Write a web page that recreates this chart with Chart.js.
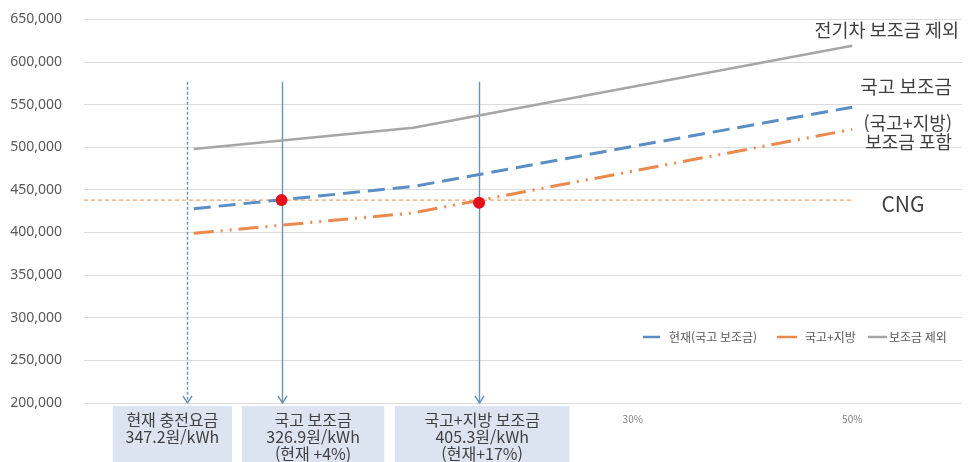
<!DOCTYPE html>
<html lang="ko">
<head>
<meta charset="utf-8">
<title>충전요금 인상률별 비용 비교</title>
<script src="https://cdn.jsdelivr.net/npm/chart.js@4.4.1/dist/chart.umd.min.js"></script>
<style>
  html, body { margin: 0; padding: 0; background: #fff; }
  #wrap { position: relative; width: 968px; height: 462px; overflow: hidden; }
  #costChart { position: absolute; left: 0; top: -11px; }
</style>
</head>
<body>
<div id="wrap"><canvas id="costChart" width="968" height="473"></canvas></div>
<script>
// 충전요금 인상률 구간
var categories = ["0%", "10%", "30%", "50%"];
// 시리즈별 비용
var currentSubsidy = [428000, 454000, 501000, 547000]; // 현재(국고 보조금)
var localSubsidy = [399000, 423000, 472000, 521000];   // 국고+지방
var noSubsidy = [498000, 523000, 571000, 619000];      // 보조금 제외
// CNG 기준선
var cngCost = 438000;
// 손익분기점 (구간 위치, 비용)
var breakEvenX = [0.40, 1.30];
var breakEvenY = [438000, 435000];
// 세로축 눈금
var yTicks = [200000, 250000, 300000, 350000, 400000, 450000, 500000, 550000, 600000, 650000];

var KR = "'Noto Sans CJK KR', 'Noto Sans', sans-serif";
var SHIFT = 11; // 캔버스 위쪽 잘림 보정

function toPoints(values) {
  return values.map(function (v, i) { return { x: i, y: v }; });
}

var annotations = {
  id: 'annotations',
  beforeDatasetsDraw: function (chart) {
    var ctx = chart.ctx, x = chart.scales.x, y = chart.scales.y, area = chart.chartArea;
    ctx.save();
    // CNG 기준선
    var cy = y.getPixelForValue(cngCost);
    ctx.strokeStyle = '#f2a366';
    ctx.lineWidth = 1.3;
    ctx.setLineDash([4, 3]);
    ctx.beginPath();
    ctx.moveTo(area.left, cy);
    ctx.lineTo(x.getPixelForValue(categories.length - 1), cy);
    ctx.stroke();

    // 세로 화살표 (현재, 국고, 국고+지방)
    var arrows = [{ v: -0.03, dash: [3, 2] }, { v: breakEvenX[0], dash: [] }, { v: breakEvenX[1], dash: [] }];
    var top = y.getPixelForValue(577000), bottom = y.getPixelForValue(200000);
    ctx.strokeStyle = '#6a93b8';
    ctx.lineWidth = 1.4;
    arrows.forEach(function (a) {
      var ax = Math.round(x.getPixelForValue(a.v)) + 0.5;
      ctx.setLineDash(a.dash);
      ctx.beginPath();
      ctx.moveTo(ax, top);
      ctx.lineTo(ax, bottom);
      ctx.stroke();
      ctx.setLineDash([]);
      ctx.beginPath();
      ctx.moveTo(ax - 4.5, bottom - 7);
      ctx.lineTo(ax, bottom);
      ctx.lineTo(ax + 4.5, bottom - 7);
      ctx.stroke();
    });
    ctx.restore();
  },
  afterDraw: function (chart) {
    var ctx = chart.ctx, x = chart.scales.x;
    ctx.save();
    ctx.translate(0, SHIFT);

    // 하단 설명 상자
    var boxes = [
      { from: -0.369, to: 0.174, lines: ['현재 충전요금', '347.2원/kWh'] },
      { from: 0.219, to: 0.868, lines: ['국고 보조금', '326.9원/kWh', '(현재 +4%)'] },
      { from: 0.916, to: 1.712, lines: ['국고+지방 보조금', '405.3원/kWh', '(현재+17%)'] }
    ];
    boxes.forEach(function (b) {
      var l = x.getPixelForValue(b.from), r = x.getPixelForValue(b.to);
      ctx.fillStyle = '#dce3f1';
      ctx.fillRect(l, 406, r - l, 60);
      ctx.fillStyle = '#404040';
      ctx.font = '16px ' + KR;
      ctx.textAlign = 'center';
      ctx.textBaseline = 'middle';
      b.lines.forEach(function (t, i) {
        ctx.fillText(t, (l + r) / 2, 420 + i * 17);
      });
    });

    // 오른쪽 시리즈 설명
    ctx.fillStyle = '#3f3f3f';
    ctx.font = '18.5px ' + KR;
    ctx.textBaseline = 'middle';
    ctx.textAlign = 'right';
    ctx.fillText('전기차 보조금 제외', 959, 30);
    ctx.font = '19px ' + KR;
    ctx.fillText('국고 보조금', 952, 87);
    ctx.font = '18px ' + KR;
    ctx.fillText('(국고+지방)', 952, 123);
    ctx.fillText('보조금 포함', 952, 142);
    ctx.textAlign = 'center';
    ctx.font = '21px ' + KR;
    ctx.fillText('CNG', 903, 204);

    // 범례
    var legend = [
      { color: '#5b8ec4', x0: 643, x1: 660, tx: 669, label: '현재(국고 보조금)' },
      { color: '#eb8a4c', x0: 777, x1: 797, tx: 805, label: '국고+지방' },
      { color: '#a6a6a6', x0: 868, x1: 887, tx: 889, label: '보조금 제외' }
    ];
    ctx.font = '12px ' + KR;
    ctx.textAlign = 'left';
    legend.forEach(function (it) {
      ctx.strokeStyle = it.color;
      ctx.lineWidth = 2.5;
      ctx.beginPath();
      ctx.moveTo(it.x0, 337);
      ctx.lineTo(it.x1, 337);
      ctx.stroke();
      ctx.fillStyle = '#595959';
      ctx.fillText(it.label, it.tx, 337);
    });
    ctx.restore();
  }
};

var ctx = document.getElementById('costChart');
var costChart = new Chart(ctx, {
  type: 'line',
  data: {
    datasets: [{
      label: '손익분기점',
      data: breakEvenX.map(function (v, i) { return { x: v, y: breakEvenY[i] }; }),
      showLine: false,
      pointRadius: 6,
      pointBackgroundColor: '#e3111b',
      pointBorderWidth: 0,
      order: 0
    }, {
      label: '현재(국고 보조금)',
      data: toPoints(currentSubsidy),
      borderColor: '#5b8ec4',
      borderWidth: 3,
      borderDash: [17, 8],
      pointRadius: 0,
      order: 1
    }, {
      label: '국고+지방',
      data: toPoints(localSubsidy),
      borderColor: '#eb8a4c',
      borderWidth: 3,
      borderDash: [20, 7, 2, 7, 2, 7],
      pointRadius: 0,
      order: 2
    }, {
      label: '보조금 제외',
      data: toPoints(noSubsidy),
      borderColor: '#a6a6a6',
      borderWidth: 2.5,
      pointRadius: 0,
      order: 3
    }]
  },
  options: {
    responsive: false,
    animation: false,
    layout: { padding: 0 },
    plugins: {
      legend: { display: false },
      tooltip: { enabled: false }
    },
    scales: {
      x: {
        type: 'linear',
        min: -0.5,
        max: categories.length - 0.5,
        afterBuildTicks: function (axis) {
          axis.ticks = categories.map(function (c, i) { return { value: i }; });
        },
        afterFit: function (axis) { axis.height = 59; },
        ticks: {
          callback: function (v) { return categories[v]; },
          color: '#7f7f7f',
          font: { size: 10, family: KR },
          padding: 2,
          maxRotation: 0
        },
        grid: { display: false },
        border: { display: false }
      },
      y: {
        min: 200000,
        max: 650000,
        afterBuildTicks: function (axis) {
          axis.ticks = yTicks.map(function (v) { return { value: v }; });
        },
        afterFit: function (axis) { axis.width = 84; },
        ticks: {
          callback: function (v) { return v.toLocaleString('en-US'); },
          color: '#595959',
          font: { size: 14, family: "'Noto Sans', sans-serif" },
          padding: 22
        },
        grid: { color: '#dcdcdc', drawTicks: false },
        border: { display: false }
      }
    }
  },
  plugins: [annotations]
});
</script>
</body>
</html>
